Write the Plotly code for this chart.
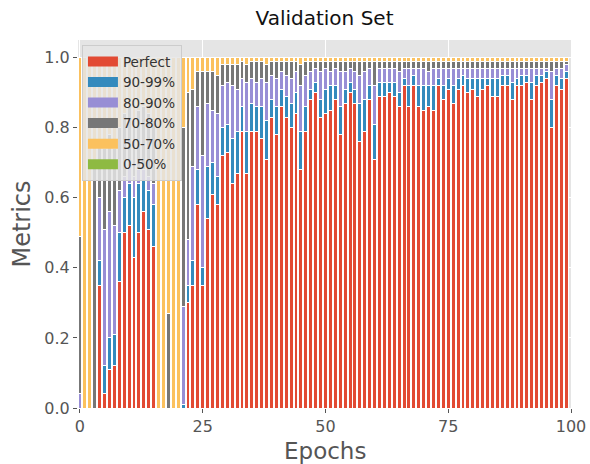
import plotly.graph_objects as go

# Per-epoch share of validation samples in each accuracy bucket
epochs = list(range(100))

perfect = [
    0.00, 0.00, 0.00, 0.00, 0.35, 0.04, 0.11, 0.12, 0.36, 0.50,
    0.52, 0.43, 0.50, 0.56, 0.51, 0.46, 0.00, 0.00, 0.00, 0.00,
    0.00, 0.00, 0.30, 0.35, 0.58, 0.35, 0.54, 0.61, 0.58, 0.72,
    0.73, 0.64, 0.67, 0.79, 0.67, 0.79, 0.79, 0.77, 0.71, 0.83,
    0.78, 0.86, 0.83, 0.80, 0.84, 0.68, 0.79, 0.88, 0.90, 0.83,
    0.84, 0.85, 0.88, 0.78, 0.87, 0.90, 0.87, 0.76, 0.79, 0.88,
    0.71, 0.89, 0.89, 0.90, 0.89, 0.86, 0.92, 0.86, 0.92, 0.86,
    0.85, 0.86, 0.85, 0.92, 0.88, 0.91, 0.87, 0.91, 0.92, 0.90,
    0.91, 0.89, 0.91, 0.92, 0.89, 0.89, 0.92, 0.92, 0.88, 0.92,
    0.92, 0.93, 0.88, 0.92, 0.93, 0.94, 0.80, 0.92, 0.91, 0.94,
]
p90_99 = [
    0.00, 0.00, 0.00, 0.00, 0.07, 0.08, 0.09, 0.09, 0.14, 0.10,
    0.12, 0.17, 0.14, 0.09, 0.11, 0.12, 0.00, 0.00, 0.00, 0.00,
    0.00, 0.01, 0.05, 0.07, 0.10, 0.05, 0.15, 0.09, 0.08, 0.08,
    0.08, 0.13, 0.12, 0.07, 0.12, 0.08, 0.07, 0.09, 0.11, 0.05,
    0.08, 0.05, 0.06, 0.07, 0.06, 0.11, 0.07, 0.03, 0.03, 0.05,
    0.07, 0.07, 0.04, 0.08, 0.04, 0.03, 0.04, 0.11, 0.09, 0.04,
    0.10, 0.04, 0.04, 0.03, 0.04, 0.04, 0.02, 0.06, 0.03, 0.06,
    0.07, 0.06, 0.07, 0.02, 0.04, 0.03, 0.05, 0.03, 0.03, 0.04,
    0.03, 0.05, 0.03, 0.02, 0.05, 0.05, 0.03, 0.03, 0.05, 0.02,
    0.03, 0.02, 0.05, 0.03, 0.02, 0.02, 0.08, 0.03, 0.03, 0.02,
]
p80_90 = [
    0.04, 0.00, 0.00, 0.00, 0.18, 0.39, 0.36, 0.31, 0.12, 0.06,
    0.05, 0.06, 0.04, 0.03, 0.04, 0.06, 0.00, 0.00, 0.00, 0.00,
    0.00, 0.28, 0.13, 0.27, 0.18, 0.32, 0.18, 0.15, 0.18, 0.12,
    0.12, 0.15, 0.12, 0.08, 0.14, 0.07, 0.07, 0.08, 0.11, 0.07,
    0.08, 0.05, 0.06, 0.07, 0.06, 0.13, 0.09, 0.05, 0.04, 0.08,
    0.06, 0.04, 0.05, 0.10, 0.05, 0.04, 0.05, 0.08, 0.08, 0.05,
    0.11, 0.04, 0.04, 0.04, 0.04, 0.06, 0.03, 0.05, 0.02, 0.05,
    0.05, 0.04, 0.05, 0.03, 0.05, 0.03, 0.05, 0.03, 0.02, 0.03,
    0.03, 0.03, 0.03, 0.03, 0.03, 0.03, 0.02, 0.02, 0.04, 0.03,
    0.02, 0.02, 0.04, 0.02, 0.02, 0.01, 0.08, 0.02, 0.03, 0.02,
]
p70_80 = [
    0.45, 0.00, 0.00, 0.70, 0.15, 0.23, 0.22, 0.22, 0.18, 0.18,
    0.17, 0.16, 0.17, 0.18, 0.18, 0.18, 0.00, 0.00, 0.27, 0.00,
    0.00, 0.51, 0.42, 0.22, 0.10, 0.24, 0.09, 0.11, 0.11, 0.06,
    0.05, 0.06, 0.07, 0.05, 0.05, 0.05, 0.06, 0.05, 0.05, 0.04,
    0.05, 0.03, 0.04, 0.05, 0.03, 0.06, 0.04, 0.03, 0.02, 0.03,
    0.02, 0.03, 0.02, 0.03, 0.03, 0.02, 0.03, 0.04, 0.03, 0.02,
    0.07, 0.02, 0.02, 0.02, 0.02, 0.03, 0.02, 0.02, 0.02, 0.02,
    0.02, 0.03, 0.02, 0.02, 0.02, 0.02, 0.02, 0.02, 0.02, 0.02,
    0.02, 0.02, 0.02, 0.02, 0.02, 0.02, 0.02, 0.02, 0.02, 0.02,
    0.02, 0.02, 0.02, 0.02, 0.02, 0.02, 0.03, 0.02, 0.02, 0.01,
]
p50_70 = [
    0.51, 1.00, 1.00, 0.30, 0.25, 0.26, 0.22, 0.26, 0.20, 0.16,
    0.14, 0.18, 0.15, 0.14, 0.16, 0.18, 1.00, 1.00, 0.73, 1.00,
    1.00, 0.20, 0.10, 0.09, 0.04, 0.04, 0.04, 0.04, 0.05, 0.02,
    0.02, 0.02, 0.02, 0.01, 0.02, 0.01, 0.01, 0.01, 0.02, 0.01,
    0.01, 0.01, 0.01, 0.01, 0.01, 0.02, 0.01, 0.01, 0.01, 0.01,
    0.01, 0.01, 0.01, 0.01, 0.01, 0.01, 0.01, 0.01, 0.01, 0.01,
    0.01, 0.01, 0.01, 0.01, 0.01, 0.01, 0.01, 0.01, 0.01, 0.01,
    0.01, 0.01, 0.01, 0.01, 0.01, 0.01, 0.01, 0.01, 0.01, 0.01,
    0.01, 0.01, 0.01, 0.01, 0.01, 0.01, 0.01, 0.01, 0.01, 0.01,
    0.01, 0.01, 0.01, 0.01, 0.01, 0.01, 0.01, 0.01, 0.01, 0.01,
]
p0_50 = [0.00] * 100

series = [
    ("Perfect", perfect, "#E24A33"),
    ("90-99%", p90_99, "#348ABD"),
    ("80-90%", p80_90, "#988ED5"),
    ("70-80%", p70_80, "#777777"),
    ("50-70%", p50_70, "#FBC15E"),
    ("0-50%", p0_50, "#8EBA42"),
]

FONT = "DejaVu Sans"
fig = go.Figure()

# Stacked bars with thin white edges, as in the ggplot style
for name, values, color in series:
    fig.add_trace(go.Bar(
        x=epochs, y=values, name=name, width=0.8,
        marker=dict(color=color, line=dict(width=1, color="white")),
        showlegend=False,
    ))

# Legend proxies: wide colour patches like matplotlib's legend handles
for name, values, color in series:
    fig.add_trace(go.Scatter(
        x=[None], y=[None], mode="lines", name=name,
        line=dict(color=color, width=10),
        showlegend=True,
    ))

fig.update_layout(
    width=590, height=464,
    margin=dict(l=78, r=19, t=40, b=56),
    barmode="stack",
    paper_bgcolor="white",
    plot_bgcolor="#E5E5E5",
    font=dict(family=FONT, color="#555555"),
    title=dict(
        text="Validation Set", x=0.55, xanchor="center",
        y=0.962, yanchor="middle",
        font=dict(family=FONT, size=20, color="#111111"),
    ),
    legend=dict(
        x=0.008, y=0.986, xanchor="left", yanchor="top",
        bgcolor="rgba(229,229,229,0.85)", bordercolor="#CCCCCC", borderwidth=1,
        font=dict(family=FONT, size=13.5, color="#333333"),
        tracegroupgap=0, itemwidth=30, traceorder="normal",
    ),
    showlegend=True,
    # x-axis label placed low, just above the page edge
    annotations=[dict(
        text="Epochs", xref="paper", yref="paper", x=0.5, y=-0.116,
        xanchor="center", yanchor="middle", showarrow=False,
        font=dict(family=FONT, size=23, color="#555555"),
    )],
)

fig.update_xaxes(
    range=[-0.4, 100], tickvals=[0, 25, 50, 75, 100],
    ticks="outside", ticklen=4, tickcolor="#555555",
    showgrid=True, gridcolor="white", gridwidth=1, zeroline=False,
    showline=False, automargin=False,
    tickfont=dict(family=FONT, size=16, color="#555555"),
)
fig.update_yaxes(
    range=[0, 1.05], tickvals=[0, 0.2, 0.4, 0.6, 0.8, 1.0], tickformat=".1f",
    ticks="outside", ticklen=4, tickcolor="#555555",
    showgrid=True, gridcolor="white", gridwidth=1, zeroline=False,
    showline=False, automargin=False,
    tickfont=dict(family=FONT, size=16, color="#555555"),
    title=dict(text="Metrics", standoff=6,
               font=dict(family=FONT, size=24, color="#555555")),
)

fig.write_html("out.html")
